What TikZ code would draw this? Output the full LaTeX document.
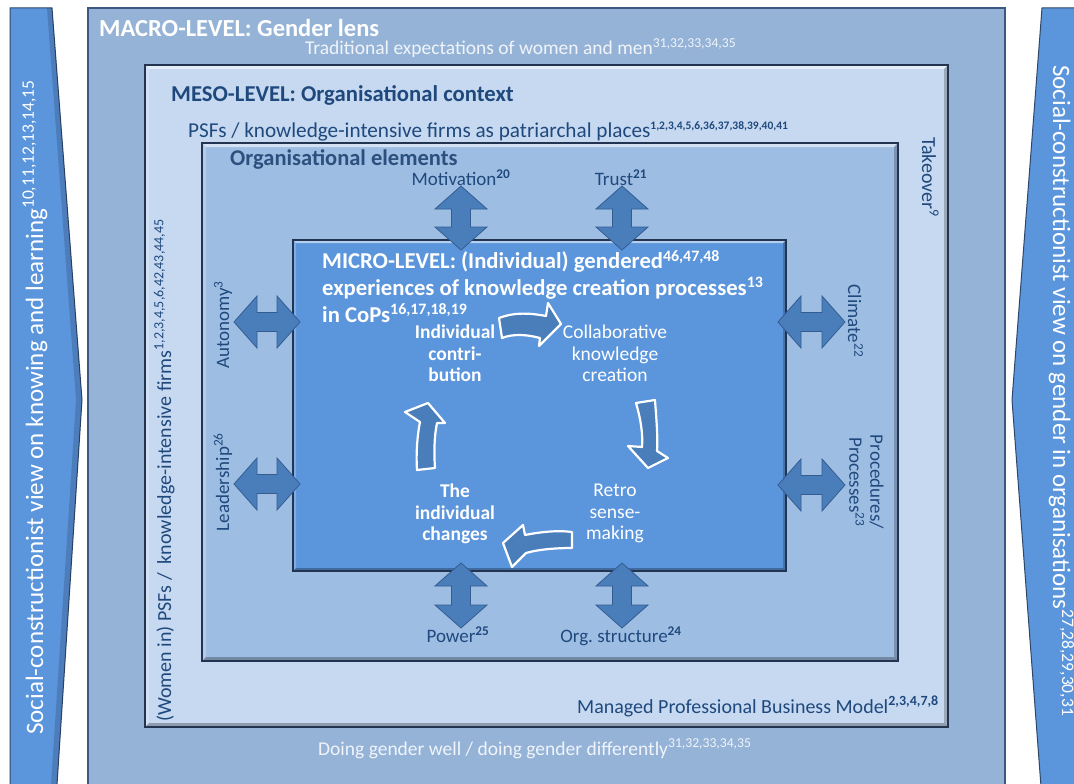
\documentclass[tikz,border=0pt]{standalone}
\usepackage{fontspec}
\setmainfont{Carlito}
\usetikzlibrary{calc}

\definecolor{macrofill}{RGB}{149,179,215}
\definecolor{mesofill}{RGB}{198,217,241}
\definecolor{orgfill}{RGB}{158,189,227}
\definecolor{microfill}{RGB}{91,149,220}
\definecolor{arrowfill}{RGB}{74,126,187}
\definecolor{arrowline}{RGB}{52,92,145}
\definecolor{boxline}{RGB}{34,52,80}
\definecolor{macroline}{RGB}{60,88,130}
\definecolor{darktext}{RGB}{31,73,125}
\definecolor{elemtext}{RGB}{44,80,126}
\definecolor{lighttext}{RGB}{240,244,250}
\definecolor{sidefill}{RGB}{91,149,220}
\definecolor{sideline}{RGB}{46,70,104}

\newcommand\fsz[2]{\fontsize{#1}{#2}\selectfont}

% light/dark edges that give a box its raised look
\newcommand\bevel[2]{%
  \fill[white, opacity=.55] (#1.north west) -- (#1.north east) -- ([shift={(-#2,#2)}]#1.north east) -- ([shift={(#2,#2)}]#1.north west) -- cycle;
  \fill[white, opacity=.22] (#1.north west) -- ([shift={(#2,#2)}]#1.north west) -- ([shift={(#2,-#2)}]#1.south west) -- (#1.south west) -- cycle;
  \fill[black, opacity=.22] (#1.north east) -- (#1.south east) -- ([shift={(-#2,-#2)}]#1.south east) -- ([shift={(-#2,#2)}]#1.north east) -- cycle;
  \fill[black, opacity=.28] (#1.south west) -- (#1.south east) -- ([shift={(-#2,-#2)}]#1.south east) -- ([shift={(#2,-#2)}]#1.south west) -- cycle;
  \draw[boxline, line width=1.3pt] (#1.north west) rectangle (#1.south east);
}

% vertical double arrow: x, top y, bottom y
\newcommand\vdarrow[3]{%
  \draw[darr] (#1,#2) -- (#1+26,#2+23) -- (#1+9.5,#2+23) -- (#1+9.5,#3-23) -- (#1+26,#3-23)
    -- (#1,#3) -- (#1-26,#3-23) -- (#1-9.5,#3-23) -- (#1-9.5,#2+23) -- (#1-26,#2+23) -- cycle;}
% horizontal double arrow: y, left x, right x
\newcommand\hdarrow[3]{%
  \draw[darr] (#2,#1) -- (#2+23,#1-26) -- (#2+23,#1-9.5) -- (#3-23,#1-9.5) -- (#3-23,#1-26)
    -- (#3,#1) -- (#3-23,#1+26) -- (#3-23,#1+9.5) -- (#2+23,#1+9.5) -- (#2+23,#1+26) -- cycle;}

\begin{document}
\begin{tikzpicture}[x=1pt, y=-1pt,
  box/.style={inner sep=0pt, outer sep=0pt, anchor=north west},
  darr/.style={fill=arrowfill, draw=arrowline, line width=0.8pt, line join=miter},
  cyc/.style={fill=arrowfill, draw=white, line width=2.2pt, line join=round},
  sidearrow/.style={fill=sidefill, draw=sideline, line width=1pt},
  sidetext/.style={text=white, font=\fsz{25}{30}, inner sep=0pt},
  macrotitle/.style={text=white, font=\bfseries\fsz{24.5}{29}, inner sep=0pt},
  macrotext/.style={text=lighttext, font=\fsz{19.5}{23}, inner sep=0pt},
  mesotitle/.style={text=darktext, font=\bfseries\fsz{22.7}{26}, inner sep=0pt},
  mesotext/.style={text=darktext, font=\fsz{20}{24}, inner sep=0pt},
  orgtitle/.style={text=elemtext, font=\bfseries\fsz{22.5}{26}, inner sep=0pt},
  elem/.style={text=darktext, font=\fsz{19}{21}, inner sep=0pt, align=center},
  microtitle/.style={text=white, font=\bfseries\fsz{22.7}{26.7}, inner sep=0pt, align=left},
  stage/.style={text=white, font=\fsz{19.5}{21.5}, inner sep=0pt, align=center},
  boldstage/.style={stage, font=\bfseries\fsz{19.5}{21.5}}]

\path[use as bounding box] (0,0) rectangle (1074,784);
\fill[white] (0,0) rectangle (1074,784);
\clip (0,0) rectangle (1074,784);

% side bands with their perspectives
\draw[sidearrow] (10,8) -- (52,8) -- (82,400) -- (56,800) -- (10,800) -- cycle;
\fill[black, opacity=.15] (52,8) -- (82,400) -- (56,800) -- (50,800) -- (76,400) -- (47,8) -- cycle;
\node[sidetext, rotate=90, anchor=base west] (knowing) at (43,735)
  {Social-constructionist view on knowing and learning\textsuperscript{10,11,12,13,14,15}};

\draw[sidearrow] (1042,8) -- (1090,8) -- (1090,800) -- (1042,800) -- (1012,400) -- cycle;
\node[sidetext, rotate=-90, anchor=base west] (gender) at (1053,65)
  {Social-constructionist view on gender in organisations\textsuperscript{27,28,29,30,31}};

% macro level
\node[box, fill=macrofill, draw=macroline, line width=1.2pt, minimum width=917, minimum height=800] (macro) at (88,8) {};
\node[macrotitle, anchor=base west] (macrolabel) at (99,37) {MACRO-LEVEL: Gender lens};
\node[macrotext, anchor=base west] (tradition) at (305,55) {Traditional expectations of women and men\textsuperscript{31,32,33,34,35}};
\node[macrotext, anchor=base west] (doing) at (318,755) {Doing gender well / doing gender differently\textsuperscript{31,32,33,34,35}};

% meso level
\node[box, fill=mesofill, minimum width=803, minimum height=662] (meso) at (145,65) {};
\bevel{meso}{4}
\node[mesotitle, anchor=base west] (mesolabel) at (171,102) {MESO-LEVEL: Organisational context};
\node[mesotext, font=\fsz{21.2}{24}, anchor=base west] (patriarchal) at (188,137) {PSFs / knowledge-intensive firms as patriarchal places\textsuperscript{\bfseries\fsz{11.5}{12}1,2,3,4,5,6,36,37,38,39,40,41}};
\node[mesotext, anchor=base west] (managed) at (577,713) {Managed Professional Business Model\textsuperscript{\bfseries 2,3,4,7,8}};
\node[mesotext, rotate=90, anchor=base west] (women) at (171,722) {(Women in) PSFs /\ \ knowledge-intensive firms\textsuperscript{1,2,3,4,5,6,42,43,44,45}};
\node[mesotext, rotate=-90, anchor=base west] (takeover) at (922,137) {Takeover\textsuperscript{9}};

% organisational elements
\node[box, fill=orgfill, minimum width=696, minimum height=518] (org) at (202,143) {};
\bevel{org}{4}
\node[orgtitle, anchor=base west] (orglabel) at (230,165) {Organisational elements};

% micro level
\node[box, fill=microfill, minimum width=493, minimum height=331] (micro) at (293,240) {};
\bevel{micro}{3}
\node[microtitle, anchor=north west] (microlabel) at (322,250)
  {MICRO-LEVEL: (Individual) gendered\textsuperscript{46,47,48}\\
   experiences of knowledge creation processes\textsuperscript{13}\\
   in CoPs\textsuperscript{16,17,18,19}};

% links between the elements and the micro level
\vdarrow{461}{186}{250}
\vdarrow{622}{186}{250}
\vdarrow{461}{563}{628}
\vdarrow{622}{563}{628}
\hdarrow{322}{234}{300}
\hdarrow{484}{234}{300}
\hdarrow{322}{778}{845}
\hdarrow{485}{778}{845}

\node[elem, anchor=base] (motivation) at (461,185) {Motivation\textsuperscript{\bfseries 20}};
\node[elem, anchor=base] (trust) at (621,185) {Trust\textsuperscript{\bfseries 21}};
\node[elem, anchor=base] (power) at (458,642) {Power\textsuperscript{\bfseries 25}};
\node[elem, anchor=base] (structure) at (621,642) {Org.\ structure\textsuperscript{\bfseries 24}};
\node[elem, rotate=90, anchor=base] (autonomy) at (229,325) {Autonomy\textsuperscript{3}};
\node[elem, rotate=90, anchor=base] (leadership) at (229,482) {Leadership\textsuperscript{26}};
\node[elem, rotate=-90, anchor=base] (climate) at (848,321) {Climate\textsuperscript{22}};
\node[elem, rotate=-90, anchor=south] (procedures) at (849,482) {Procedures/\\Processes\textsuperscript{23}};

% knowledge creation cycle
\node[boldstage, anchor=north] (contribution) at (455,325) {Individual\\contri-\\bution};
\node[stage, anchor=north] (collab) at (615,325) {Collaborative\\knowledge\\creation};
\node[stage, anchor=north] (retro) at (615,484) {Retro\\sense-\\making};
\node[boldstage, anchor=north] (changes) at (455,484) {The\\individual\\changes};

\draw[cyc] (499,318) .. controls (515,312) and (530,313) .. (546,316) -- (548,303) -- (561,324)
  -- (539,346) -- (540,338) .. controls (525,334) and (512,334) .. (502,338) -- cycle;
\draw[cyc] (636,403) .. controls (641,420) and (643,435) .. (642,447) -- (628,446) -- (648,468)
  -- (668,458) -- (657,451) .. controls (658,435) and (656,415) .. (655,400) -- cycle;
\draw[cyc] (572,532) .. controls (558,530) and (540,532) .. (525,535) -- (523,525) -- (503,543)
  -- (512,567) -- (526,553) .. controls (540,549) and (558,548) .. (572,548) -- cycle;
\draw[cyc] (417,470) .. controls (416,455) and (417,437) .. (420,422) -- (405,412) -- (428,403)
  -- (445,423) -- (437,423) .. controls (434,437) and (434,455) .. (435,468) -- cycle;

\end{tikzpicture}
\end{document}
